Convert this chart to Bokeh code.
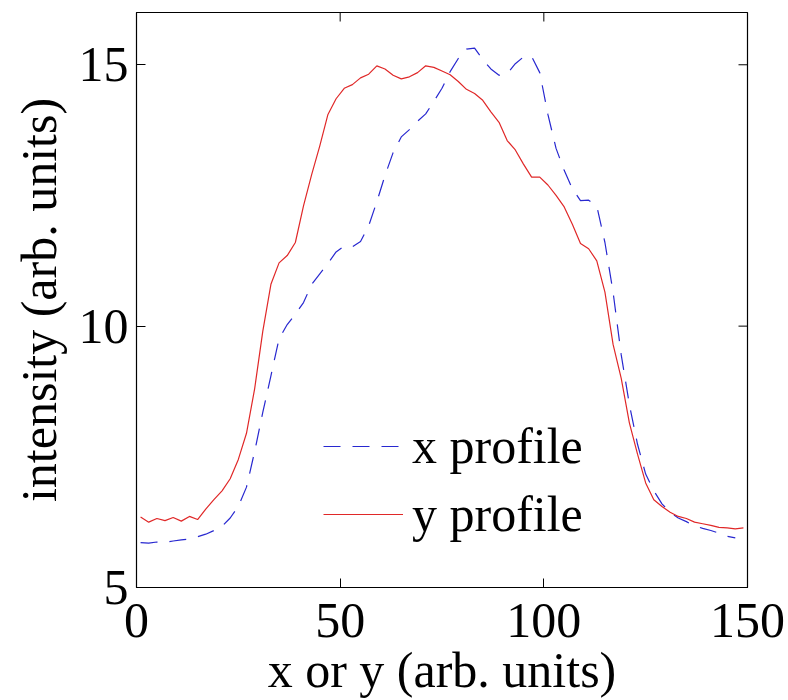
import math
from bokeh.plotting import figure
from bokeh.models import FixedTicker, Legend, LegendItem, Range1d
from bokeh.embed import file_html
from bokeh.resources import INLINE

# ---- data ----
x_pos = [1, 3, 5, 7, 9, 11, 13, 15, 17, 19, 21, 23, 25, 27, 29, 31, 33, 35, 37, 39,
         41, 43, 45, 47, 49, 51, 53, 55, 57, 59, 61, 63, 65, 67, 69, 71, 73, 75, 77, 79,
         81, 83, 85, 87, 89, 91, 93, 95, 97, 99, 101, 103, 105, 107, 109, 111, 113, 115,
         117, 119, 121, 123, 125, 127, 129, 131, 133, 135, 137, 139, 141, 143, 145, 147, 149]

y_profile = [6.35, 6.25, 6.32, 6.28, 6.34, 6.27, 6.36, 6.30, 6.50, 6.68, 6.85, 7.08, 7.45,
             7.95, 8.80, 9.90, 10.80, 11.21, 11.35, 11.60, 12.30, 12.90, 13.45, 14.05, 14.35,
             14.55, 14.62, 14.75, 14.82, 14.98, 14.92, 14.80, 14.73, 14.77, 14.85, 14.98,
             14.95, 14.88, 14.81, 14.68, 14.53, 14.45, 14.32, 14.10, 13.90, 13.55, 13.37,
             13.10, 12.85, 12.85, 12.70, 12.50, 12.28, 11.95, 11.58, 11.48, 11.25, 10.65,
             9.65, 9.00, 8.15, 7.55, 7.00, 6.68, 6.55, 6.44, 6.36, 6.32, 6.25, 6.22, 6.19,
             6.15, 6.14, 6.12, 6.14]

x_profile = [5.86, 5.85, 5.87, 5.86, 5.89, 5.91, 5.93, 5.97, 6.02, 6.09, 6.17, 6.33, 6.55,
             6.92, 7.60, 8.35, 9.05, 9.76, 10.03, 10.23, 10.45, 10.80, 11.00, 11.20, 11.42,
             11.53, 11.52, 11.62, 11.92, 12.38, 12.88, 13.32, 13.62, 13.76, 13.92, 14.06,
             14.30, 14.55, 14.87, 15.12, 15.30, 15.32, 15.10, 14.92, 14.80, 14.83, 15.02,
             15.15, 15.16, 14.85, 14.05, 13.40, 12.98, 12.63, 12.40, 12.41, 12.30, 11.60,
             10.65, 9.45, 8.50, 7.74, 7.17, 6.85, 6.60, 6.44, 6.33, 6.26, 6.18, 6.13, 6.09,
             6.04, 5.98, 5.95, 5.93]

x_ticks = [0, 50, 100, 150]
y_ticks = [5, 10, 15]

FONT = "Liberation Serif"
FS = "50px"

p = figure(width=788, height=700, output_backend="svg", toolbar_location=None,
           x_range=Range1d(0, 150), y_range=Range1d(5, 16),
           min_border_left=136, min_border_right=41, min_border_top=12,
           min_border_bottom=111)
p.grid.visible = False
p.outline_line_color = "black"
p.outline_line_width = 1.2
p.background_fill_color = "white"
p.border_fill_color = "white"

for ax in (p.xaxis[0], p.yaxis[0]):
    ax.major_tick_in = 9
    ax.major_tick_out = 0
    ax.minor_tick_line_color = None
    ax.major_label_text_font = FONT
    ax.major_label_text_font_size = FS
    ax.major_label_text_color = "black"
    ax.axis_label_text_font = FONT
    ax.axis_label_text_font_size = FS
    ax.axis_label_text_font_style = "normal"
    ax.axis_label_text_color = "black"
    ax.axis_line_color = "black"

p.xaxis[0].ticker = FixedTicker(ticks=x_ticks)
p.yaxis[0].ticker = FixedTicker(ticks=y_ticks)
p.xaxis[0].axis_label = "x or y (arb. units)"
p.yaxis[0].axis_label = "intensity (arb. units)"
p.xaxis[0].major_label_standoff = 16
p.yaxis[0].major_label_standoff = 8
p.xaxis[0].axis_label_standoff = 2
p.yaxis[0].axis_label_standoff = 9

# inward tick marks on the right and top edges of the box
p.ray(x=[p.x_range.end] * len(y_ticks), y=y_ticks, length=9, angle=math.pi,
      length_units="screen", line_color="black", line_width=1)
p.ray(x=x_ticks, y=[p.y_range.end] * len(x_ticks), length=9, angle=-math.pi / 2,
      length_units="screen", line_color="black", line_width=1)

rx = p.line(x_pos[:-1], x_profile[:-1], line_color="#2828d0", line_width=1.2,
            line_dash="17 12")
ry = p.line(x_pos, y_profile, line_color="#e02828", line_width=1.2)

legend = Legend(items=[LegendItem(label="x profile", renderers=[rx]),
                       LegendItem(label="y profile", renderers=[ry])],
                location=(187, 43), padding=0, margin=0, spacing=8,
                glyph_width=80, glyph_height=20, label_height=60, label_standoff=9,
                label_text_font=FONT, label_text_font_size=FS,
                label_text_color="black",
                border_line_color=None, background_fill_alpha=0)
p.add_layout(legend, "center")

open("out.html", "w").write(file_html(p, INLINE))
